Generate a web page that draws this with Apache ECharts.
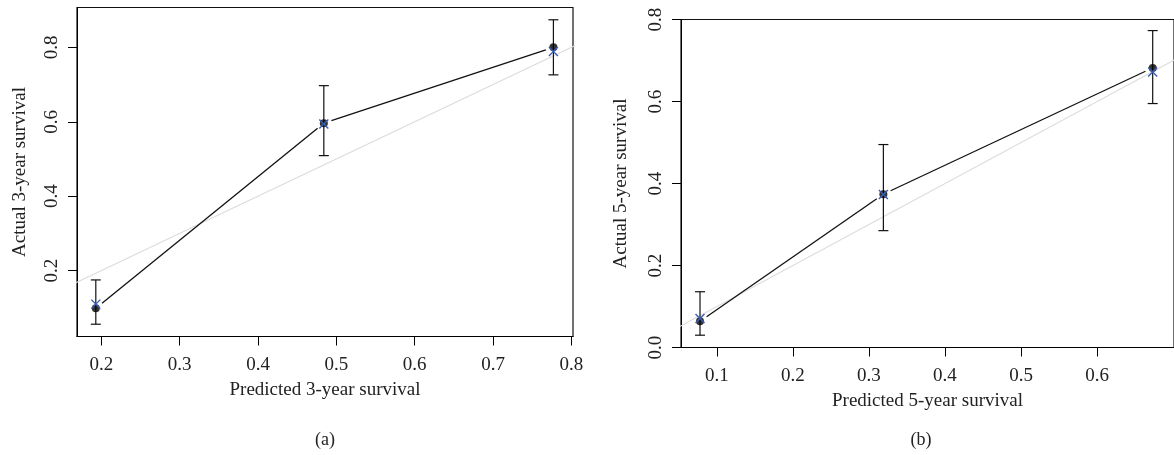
<!DOCTYPE html>
<html>
<head>
<meta charset="utf-8">
<script src="https://cdn.jsdelivr.net/npm/echarts@6/dist/echarts.min.js"></script>
<style>html,body{margin:0;padding:0;background:#fff;}#c{width:1174px;height:455px;}</style>
</head>
<body>
<div id="c"></div>
<script>
// Panel (a): 3-year
const predA = [0.193, 0.484, 0.777];
const obsA  = [0.099, 0.596, 0.800];
const corrA = [0.110, 0.594, 0.789];
const loA   = [0.056, 0.509, 0.726];
const hiA   = [0.175, 0.697, 0.874];
// Panel (b): 5-year
const predB = [0.078, 0.319, 0.673];
const obsB  = [0.064, 0.374, 0.682];
const corrB = [0.071, 0.373, 0.672];
const loB   = [0.030, 0.285, 0.595];
const hiB   = [0.136, 0.495, 0.773];
// Tick labels
const xTicksA = [0.2, 0.3, 0.4, 0.5, 0.6, 0.7, 0.8];
const yTicksA = [0.2, 0.4, 0.6, 0.8];
const xTicksB = [0.1, 0.2, 0.3, 0.4, 0.5, 0.6];
const yTicksB = [0.0, 0.2, 0.4, 0.6, 0.8];
const titles = {
  xA: 'Predicted 3-year survival', yA: 'Actual 3-year survival',
  xB: 'Predicted 5-year survival', yB: 'Actual 5-year survival',
  a: '(a)', b: '(b)'
};

const FONT = 'Liberation Serif';
const TXT = '#222';
const FS = 19;

function xAxisCfg(idx, min, max, ticks, name, gap) {
  return {
    type: 'value', gridIndex: idx, min: min, max: max,
    name: name, nameLocation: 'middle', nameGap: gap,
    nameTextStyle: { fontFamily: FONT, fontSize: FS, color: TXT },
    axisLine: { show: true, onZero: false, lineStyle: { color: '#000', width: 1 } },
    axisTick: { show: true, inside: false, length: 9, customValues: ticks, lineStyle: { color: '#000', width: 1 } },
    axisLabel: { customValues: ticks, margin: 19, fontFamily: FONT, fontSize: FS, color: TXT,
      formatter: v => Number(v).toFixed(1) },
    splitLine: { show: false }
  };
}
function yAxisCfg(idx, min, max, ticks, name, gap) {
  return {
    type: 'value', gridIndex: idx, min: min, max: max,
    name: name, nameLocation: 'middle', nameGap: gap,
    nameTextStyle: { fontFamily: FONT, fontSize: FS, color: TXT },
    axisLine: { show: true, onZero: false, lineStyle: { color: '#000', width: 1 } },
    axisTick: { show: true, inside: false, length: 9, customValues: ticks, lineStyle: { color: '#000', width: 1 } },
    axisLabel: { customValues: ticks, rotate: 90, margin: 15, fontFamily: FONT, fontSize: FS, color: TXT,
      formatter: v => Number(v).toFixed(1) },
    splitLine: { show: false }
  };
}

function errSeries(idx, xs, lo, hi) {
  return {
    type: 'custom', xAxisIndex: idx, yAxisIndex: idx, z: 4,
    data: xs.map((x, i) => [x, lo[i], hi[i]]),
    encode: { x: 0, y: [1, 2] },
    renderItem: function (params, api) {
      const x = api.value(0);
      const p1 = api.coord([x, api.value(1)]);
      const p2 = api.coord([x, api.value(2)]);
      const cap = 5;
      const st = { stroke: '#111', lineWidth: 1.2 };
      return { type: 'group', children: [
        { type: 'line', shape: { x1: p1[0], y1: p1[1], x2: p2[0], y2: p2[1] }, style: st },
        { type: 'line', shape: { x1: p1[0] - cap, y1: p1[1], x2: p1[0] + cap, y2: p1[1] }, style: st },
        { type: 'line', shape: { x1: p2[0] - cap, y1: p2[1], x2: p2[0] + cap, y2: p2[1] }, style: st }
      ]};
    }
  };
}
function segSeries(idx, xs, ys) {
  const d = [];
  for (let i = 0; i < xs.length - 1; i++) d.push([xs[i], ys[i], xs[i + 1], ys[i + 1]]);
  return {
    type: 'custom', xAxisIndex: idx, yAxisIndex: idx, z: 3,
    data: d, encode: { x: [0, 2], y: [1, 3] },
    renderItem: function (params, api) {
      const a = api.coord([api.value(0), api.value(1)]);
      const b = api.coord([api.value(2), api.value(3)]);
      const dx = b[0] - a[0], dy = b[1] - a[1];
      const L = Math.sqrt(dx * dx + dy * dy);
      const g = 8;
      const ux = dx / L, uy = dy / L;
      return { type: 'line',
        shape: { x1: a[0] + ux * g, y1: a[1] + uy * g, x2: b[0] - ux * g, y2: b[1] - uy * g },
        style: { stroke: '#111', lineWidth: 1.3 } };
    }
  };
}
function crossSeries(idx, xs, ys) {
  return {
    type: 'custom', xAxisIndex: idx, yAxisIndex: idx, z: 6,
    data: xs.map((x, i) => [x, ys[i]]),
    encode: { x: 0, y: 1 },
    renderItem: function (params, api) {
      const p = api.coord([api.value(0), api.value(1)]);
      const r = 4.5;
      const st = { stroke: '#3a5db5', lineWidth: 1.4 };
      return { type: 'group', children: [
        { type: 'line', shape: { x1: p[0] - r, y1: p[1] - r, x2: p[0] + r, y2: p[1] + r }, style: st },
        { type: 'line', shape: { x1: p[0] - r, y1: p[1] + r, x2: p[0] + r, y2: p[1] - r }, style: st }
      ]};
    }
  };
}
function dotSeries(idx, xs, ys) {
  return {
    type: 'scatter', xAxisIndex: idx, yAxisIndex: idx, z: 5,
    symbol: 'circle', symbolSize: 8,
    itemStyle: { color: '#000' },
    data: xs.map((x, i) => [x, ys[i]])
  };
}
function diagSeries(idx) {
  return {
    type: 'line', xAxisIndex: idx, yAxisIndex: idx, z: 2,
    data: [[0, 0], [1, 1]], symbol: 'none', clip: true,
    lineStyle: { color: '#dcdcdc', width: 1.2 }
  };
}

const chart = echarts.init(document.getElementById('c'), null, { renderer: 'canvas' });
chart.setOption({
  animation: false,
  backgroundColor: '#fff',
  grid: [
    { left: 77, top: 7.5, width: 496, height: 329, show: true, borderColor: '#111', borderWidth: 1.2, backgroundColor: 'transparent' },
    { left: 681, top: 19.5, width: 499, height: 328, show: true, borderColor: '#111', borderWidth: 1.2, backgroundColor: 'transparent' }
  ],
  xAxis: [
    xAxisCfg(0, 0.169, 0.802, xTicksA, titles.xA, 44),
    xAxisCfg(1, 0.053, 0.701, xTicksB, titles.xB, 44)
  ],
  yAxis: [
    yAxisCfg(0, 0.023, 0.907, yTicksA, titles.yA, 47),
    yAxisCfg(1, 0.0, 0.8, yTicksB, titles.yB, 50)
  ],
  graphic: [
    { type: 'text', x: 325, y: 440, style: { text: titles.a, font: '18px "Liberation Serif"', fill: TXT, align: 'center', verticalAlign: 'middle' } },
    { type: 'text', x: 921, y: 440, style: { text: titles.b, font: '18px "Liberation Serif"', fill: TXT, align: 'center', verticalAlign: 'middle' } }
  ],
  series: [
    diagSeries(0), segSeries(0, predA, obsA), errSeries(0, predA, loA, hiA), dotSeries(0, predA, obsA), crossSeries(0, predA, corrA),
    diagSeries(1), segSeries(1, predB, obsB), errSeries(1, predB, loB, hiB), dotSeries(1, predB, obsB), crossSeries(1, predB, corrB)
  ]
});
</script>
</body>
</html>
